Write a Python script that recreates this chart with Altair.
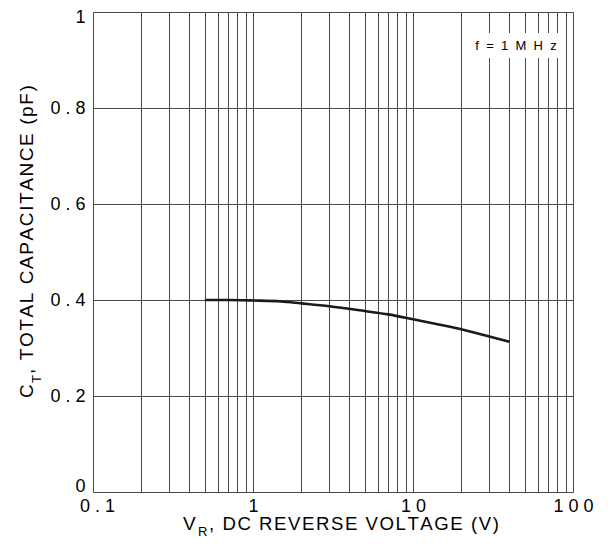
import altair as alt
import pandas as pd

# ---- data ----
voltage = [0.5, 0.7, 1, 1.5, 2, 3, 5, 7, 10, 15, 20, 30, 40]
capacitance = [0.400, 0.400, 0.399, 0.397, 0.393, 0.387, 0.377, 0.370, 0.360, 0.348, 0.339, 0.324, 0.313]

x_ticks = [m * d for d in (0.1, 1, 10) for m in range(1, 10)] + [100]
x_tick_labels = {0.1: "0 . 1", 1: "1", 10: "1 0", 100: "1 0 0"}
y_ticks = [0, 0.2, 0.4, 0.6, 0.8, 1]
y_tick_labels = {0: "0", 0.2: "0 . 2", 0.4: "0 . 4", 0.6: "0 . 6", 0.8: "0 . 8", 1: "1"}

annotation = "f = 1 M H z"
x_title_main, x_title_sub, x_title_rest = "V", "R", ", DC REVERSE VOLTAGE (V)"
y_title_main, y_title_sub, y_title_rest = "C", "T", ", TOTAL CAPACITANCE (pF)"

FONT = "Liberation Sans, Arial, sans-serif"
HAIR = "\u200a"
GRID = "#4a4a4a"


def spaced(s):
    return HAIR.join(s)


def label_expr(mapping):
    parts = [f"datum.value == {k} ? '{v}'" for k, v in mapping.items()]
    return " : ".join(parts) + " : ''"


df = pd.DataFrame({"V": voltage, "C": capacitance})

base = alt.Chart(df)

curve = base.mark_line(color="#1a1a1a", strokeWidth=2.6, interpolate="monotone").encode(
    x=alt.X(
        "V:Q",
        scale=alt.Scale(type="log", domain=[0.1, 100], nice=False),
        axis=alt.Axis(
            values=x_ticks,
            labelExpr=label_expr(x_tick_labels),
            grid=True,
            gridColor=GRID,
            gridWidth=1,
            gridOpacity=1,
            domain=False,
            ticks=False,
            labelFlush=False,
            labelOverlap=False,
            labelPadding=5,
            labelOffset={"condition": {"test": "datum.value == 0.1", "value": 4}, "value": 0},
            labelFont=FONT,
            labelFontSize=18,
            labelColor="#000000",
            title=None,
        ),
    ),
    y=alt.Y(
        "C:Q",
        scale=alt.Scale(domain=[0, 1], nice=False),
        axis=alt.Axis(
            values=y_ticks,
            labelExpr=label_expr(y_tick_labels),
            grid=True,
            gridColor=GRID,
            gridWidth=1,
            gridOpacity=1,
            domain=False,
            ticks=False,
            labelFlush=False,
            labelOverlap=False,
            labelPadding=8,
            labelOffset={
                "condition": [
                    {"test": "datum.value == 1", "value": 5},
                    {"test": "datum.value == 0", "value": -6},
                ],
                "value": 0,
            },
            labelFont=FONT,
            labelFontSize=18,
            labelColor="#000000",
            title=None,
        ),
    ),
)

# annotation box
box = alt.Chart(pd.DataFrame({"a": [0]})).mark_rect(fill="white").encode(
    x=alt.value(379), x2=alt.value(465), y=alt.value(21), y2=alt.value(46)
)
ann_text = "\u00a0\u00a0".join(annotation.split(" "))
ann = alt.Chart(pd.DataFrame({"t": [ann_text]})).mark_text(
    font=FONT, fontSize=13, color="#000000", align="center", baseline="middle"
).encode(text="t:N", x=alt.value(423), y=alt.value(34))


def txt(s, x, y, size, angle=0):
    kw = dict(font=FONT, fontSize=size, color="#000000", align="left", baseline="alphabetic")
    if angle:
        kw["angle"] = angle
    return alt.Chart(pd.DataFrame({"t": [s]})).mark_text(**kw).encode(
        text="t:N", x=alt.value(x), y=alt.value(y)
    )


xt1 = txt(x_title_main, 90, 518, 19)
xt2 = txt(x_title_sub, 105, 524, 13)
xt3 = txt(spaced(x_title_rest), 116, 518, 18.6)

yt1 = txt(y_title_main, -60, 386, 19, 270)
yt2 = txt(y_title_sub, -52, 371, 13, 270)
yt3 = txt(spaced(y_title_rest), -60, 362, 19, 270)

chart = (
    alt.layer(curve, box, ann, xt1, xt2, xt3, yt1, yt2, yt3)
    .properties(
        width=480,
        height=480,
        autosize=alt.AutoSizeParams(type="none"),
        padding={"left": 85, "top": 4, "right": 24, "bottom": 47},
    )
    .configure_view(stroke="#333333", strokeWidth=1.2)
    .configure(background="white")
)

chart.save("out.html", embed_options={"renderer": "svg", "actions": False})
